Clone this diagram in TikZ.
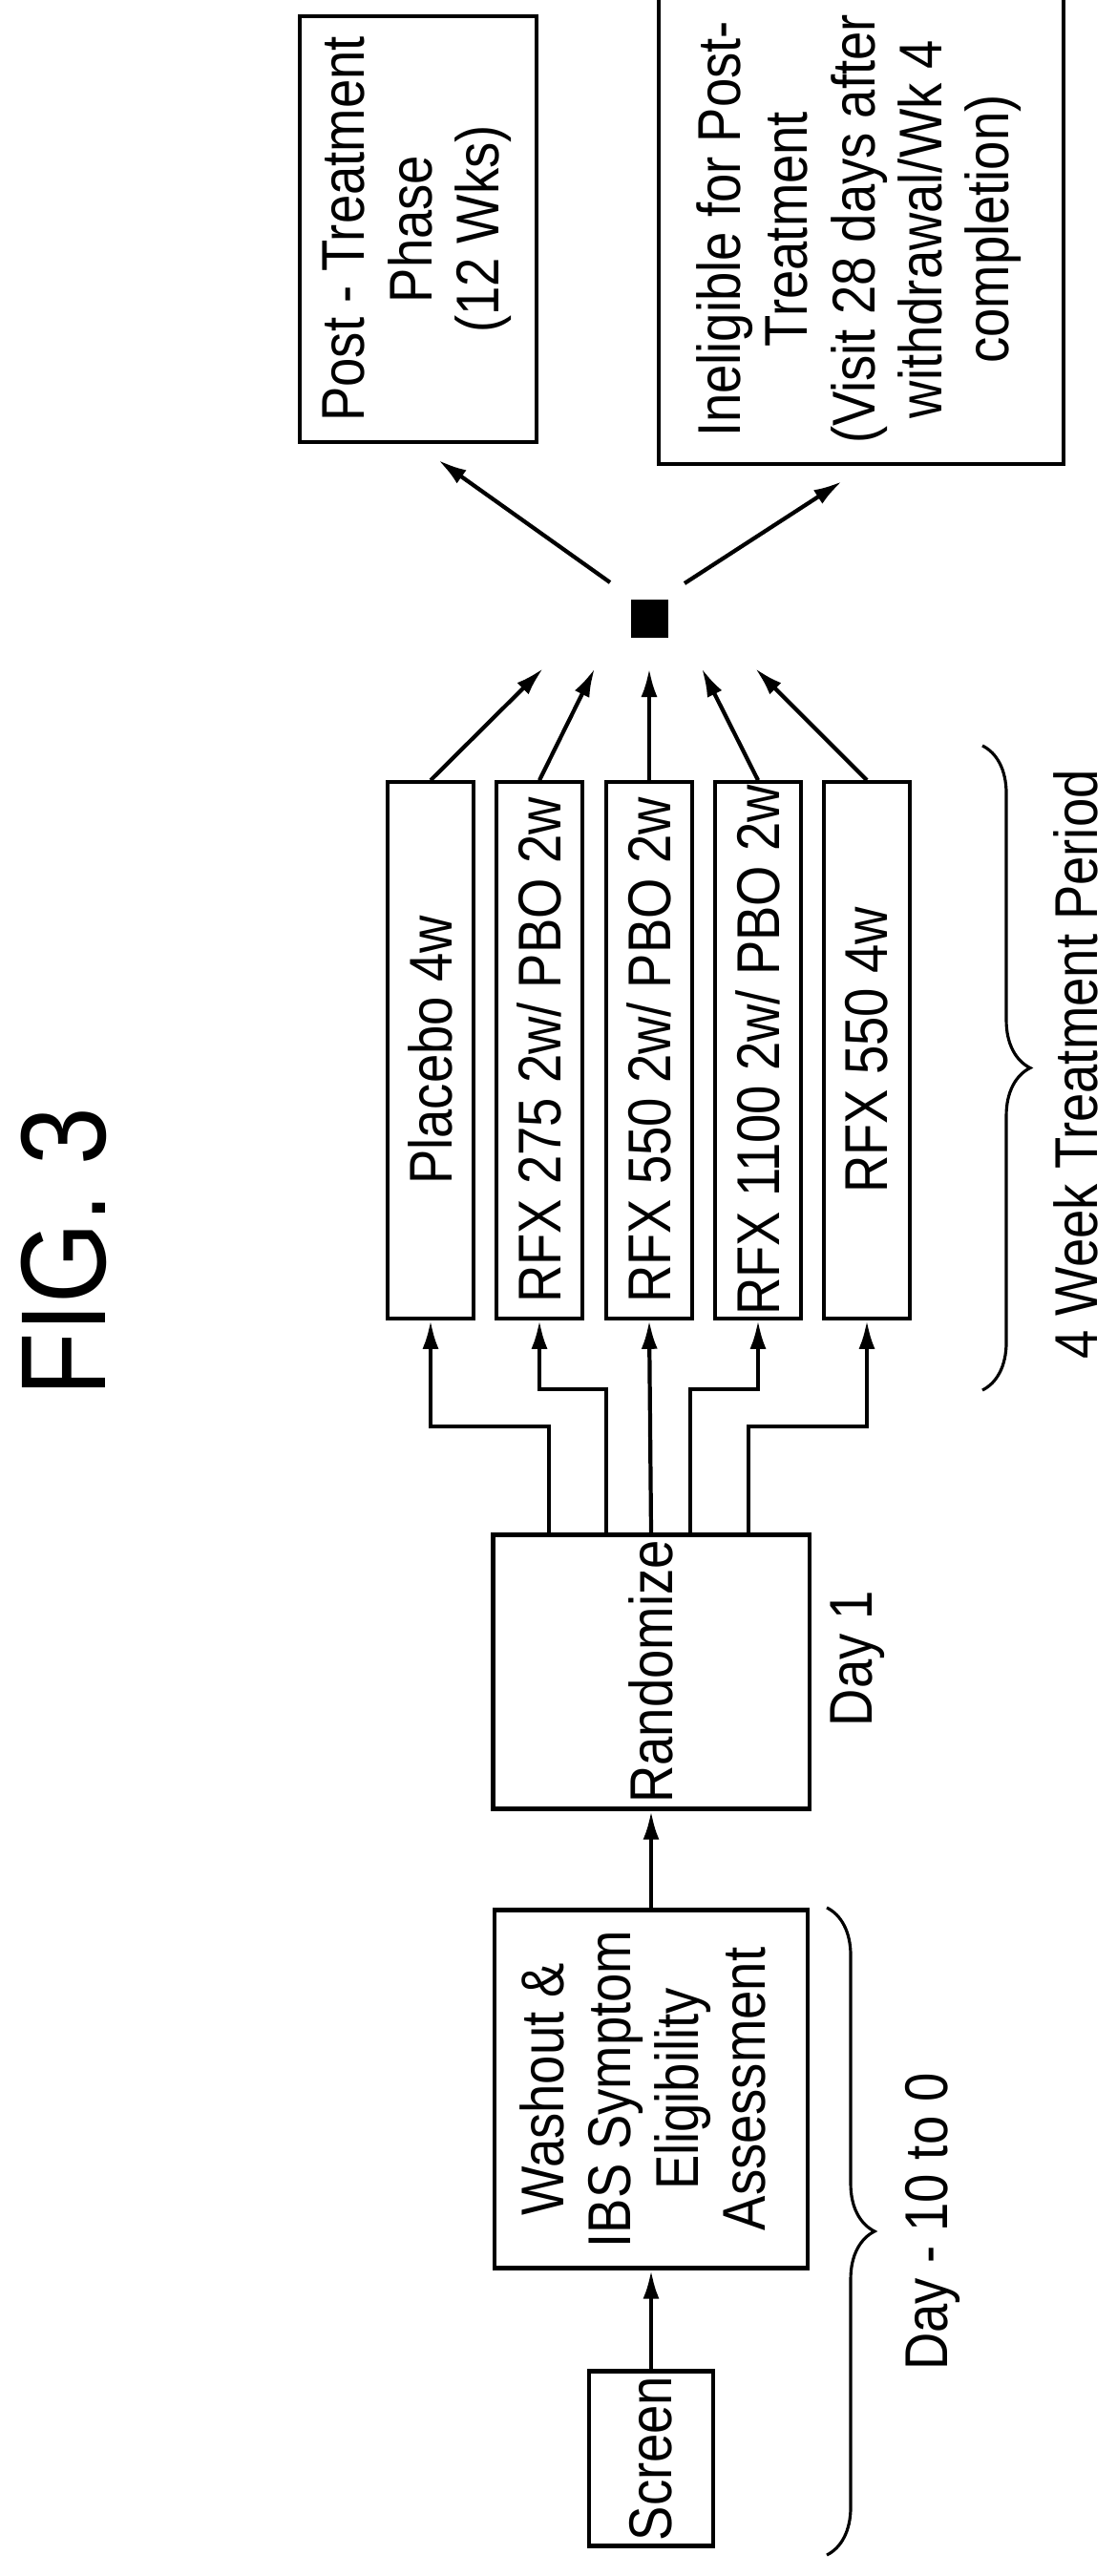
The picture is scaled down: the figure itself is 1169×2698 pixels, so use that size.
\documentclass[tikz,border=0pt]{standalone}
\usepackage{fontspec}
\setmainfont{Liberation Sans}[FakeStretch=0.86]
\usepackage{tikz}
\usetikzlibrary{arrows.meta, calc, decorations.pathreplacing, positioning}
\tikzset{>={Latex[length=0.3cm,width=0.17cm]}}

\begin{document}
\begin{tikzpicture}[x=0.01cm, y=-0.01cm, line width=1.2pt,
    box/.style={draw, rectangle, inner sep=0pt, align=center},
    lbl/.style={rotate=90, font=\fontsize{18}{20}\selectfont},
    brc/.style={decorate, decoration={brace, amplitude=0.5cm}, line width=0.9pt}]
    \useasboundingbox (0,0) rectangle (1169,2698);
    \fontsize{18}{20}\selectfont
    % title
    \node[rotate=90, font=\fontsize{36}{40}\selectfont] (title) at (67,1311) {FIG. 3};
    % boxes
    \node[box, minimum width=1.30cm, minimum height=1.83cm] (scr) at (682,2575) {\rotatebox{90}{Screen}};
    \node[box, minimum width=3.28cm, minimum height=3.60cm] (wash) at (682,2188)
      {\rotatebox{90}{\begin{tabular}{c}Washout \&\\IBS Symptom\\Eligibility\\Assessment\end{tabular}}};
    \node[box, minimum width=3.31cm, minimum height=2.87cm] (rand) at (682,1751) {\rotatebox{90}{Randomize}};
    \begin{scope}[every node/.style={box, minimum width=0.90cm, minimum height=5.61cm}]
      \node (t1) at (451,1100) {\rotatebox{90}{Placebo 4w}};
      \node (t2) at (565,1100) {\rotatebox{90}{RFX 275 2w/ PBO 2w}};
      \node (t3) at (680,1100) {\rotatebox{90}{RFX 550 2w/ PBO 2w}};
      \node (t4) at (794,1100) {\rotatebox{90}{RFX 1100 2w/ PBO 2w}};
      \node (t5) at (908,1100) {\rotatebox{90}{RFX 550 4w}};
    \end{scope}
    \node[fill, minimum size=0.39cm, inner sep=0pt] (sq) at (680,648) {};
    \node[box, minimum width=2.48cm, minimum height=4.11cm] (post) at (438,240)
      {\rotatebox{90}{\begin{tabular}{c}Post - Treatment\\Phase\\(12 Wks)\end{tabular}}};
    \node[box, minimum width=4.24cm, minimum height=4.35cm] (inel) at (902,240)
      {\rotatebox{90}{\begin{tabular}{c}Ineligible for Post-\\Treatment\\(Visit 28 days after\\withdrawal/Wk 4\\completion)\end{tabular}}};
    % labels
    \node[lbl] (day1) at (898,1737) {Day 1};
    \node[lbl] (dayw) at (977,2327) {Day - 10 to 0};
    \node[lbl] (per) at (1127,1115) {4 Week Treatment Period};
    % ends near the square
    \coordinate (in1) at (569,700);
    \coordinate (in2) at (623,700);
    \coordinate (in3) at (680,700);
    \coordinate (in4) at (735,700);
    \coordinate (in5) at (791,700);
    \coordinate (outa) at (639,610);
    \coordinate (outb) at (717,611);
    % connectors
    \draw[->] (scr.north) -- (wash.south);
    \draw[->] (wash.north) -- (rand.south);
    \draw[->] ([xshift=-1.07cm]rand.north) -- ++(0,-111) -| (t1.south);
    \draw[->] ([xshift=-0.47cm]rand.north) -- ++(0,-150) -| (t2.south);
    \draw[->] (rand.north) -- (t3.south);
    \draw[->] ([xshift=0.41cm]rand.north) -- ++(0,-150) -| (t4.south);
    \draw[->] ([xshift=1.02cm]rand.north) -- ++(0,-111) -| (t5.south);
    \foreach \i in {1,...,5} {
      \draw[->] (t\i.north) -- (in\i);
    }
    \draw[->] (outa) -- ($(post.south)+(21,17)$);
    \draw[->] (outb) -- ($(inel.south)+(-20,16)$);
    % braces
    \draw[brc] (1029,781) -- (1029,1456);
    \draw[brc] (866,1998) -- (866,2676);
\end{tikzpicture}
\end{document}
